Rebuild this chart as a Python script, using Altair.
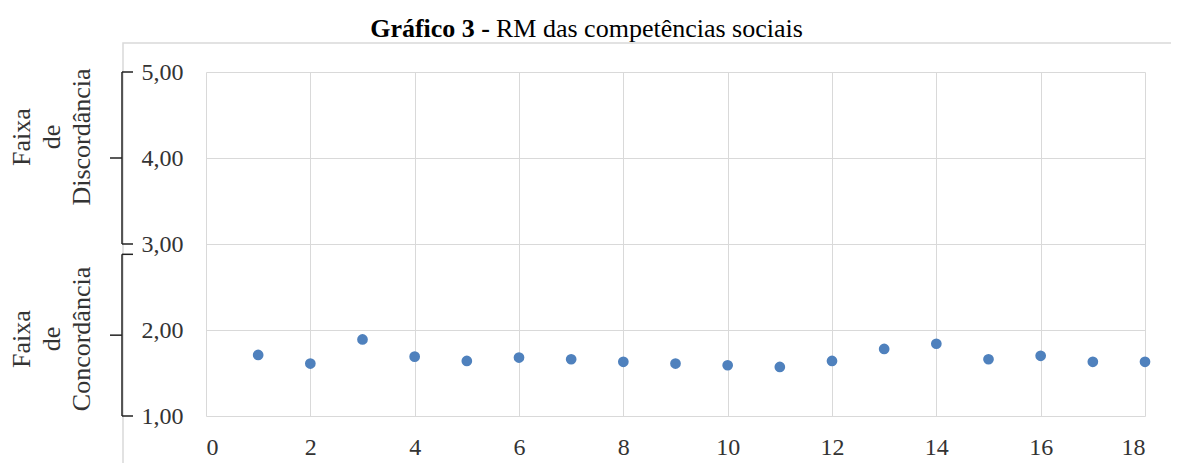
import altair as alt
import pandas as pd

# --- data ---
items = list(range(1, 19))
rm_values = [1.71, 1.61, 1.89, 1.69, 1.64, 1.68, 1.66, 1.63, 1.61,
             1.59, 1.57, 1.64, 1.78, 1.84, 1.66, 1.70, 1.63, 1.63]
x_ticks = [0, 2, 4, 6, 8, 10, 12, 14, 16, 18]
y_ticks = [1, 2, 3, 4, 5]

band_names = ["Faixa\nde\nDiscordância", "Faixa\nde\nConcordância"]
band_hi = [5.0, 2.88]
band_lo = [3.0, 1.0]

title_bold = "Gráfico 3 -"
title_rest = "RM das competências sociais"

FONT = "Liberation Serif"
TXT = "#333333"
GRID = "#d9d9d9"

W, H = 939, 344

df = pd.DataFrame({"item": items, "rm": rm_values})
bands = pd.DataFrame({"name": band_names, "hi": band_hi, "lo": band_lo})

yscale = alt.Scale(domain=[1, 5], nice=False, zero=False)
xscale = alt.Scale(domain=[0, 18], nice=False, zero=False)

points = alt.Chart(df).mark_circle(size=115, color="#4f81bd", opacity=1).encode(
    x=alt.X("item:Q", scale=xscale,
            axis=alt.Axis(values=x_ticks, title=None, grid=True, gridColor=GRID,
                          domain=False, ticks=False, tickSize=0,
                          labelFont=FONT, labelFontSize=24, labelColor=TXT,
                          labelPadding=19)),
    y=alt.Y("rm:Q", scale=yscale,
            axis=alt.Axis(values=y_ticks, title=None, grid=True, gridColor=GRID,
                          domain=False, ticks=False, tickSize=0,
                          labelExpr="replace(format(datum.value, '.2f'), '.', ',')",
                          labelFont=FONT, labelFontSize=24, labelColor=TXT,
                          labelPadding=23)),
)

# outer light frame
frame = alt.Chart(pd.DataFrame({"k": [0]})).mark_rect(
    fill=None, stroke=GRID, strokeWidth=1.5
).encode(x=alt.value(-83), x2=alt.value(972), y=alt.value(-29), y2=alt.value(420))

# braces
base_b = alt.Chart(bands).transform_calculate(mid="(datum.hi + datum.lo) / 2")
brace_v = base_b.mark_rule(color="#222222", strokeWidth=1.5).encode(
    x=alt.value(-84), y=alt.Y("hi:Q", scale=yscale), y2="lo:Q")
brace_top = base_b.mark_rule(color="#222222", strokeWidth=1.5).encode(
    x=alt.value(-84), x2=alt.value(-73), y=alt.Y("hi:Q", scale=yscale))
brace_bot = base_b.mark_rule(color="#222222", strokeWidth=1.5).encode(
    x=alt.value(-84), x2=alt.value(-73), y=alt.Y("lo:Q", scale=yscale))
brace_mid = base_b.mark_rule(color="#222222", strokeWidth=1.5).encode(
    x=alt.value(-96), x2=alt.value(-84), y=alt.Y("mid:Q", scale=yscale))

lab1 = alt.Chart(bands.iloc[[0]]).mark_text(
    angle=270, align="center", baseline="middle", lineBreak="\n",
    font=FONT, fontSize=26, lineHeight=30, color=TXT
).encode(text="name:N", x=alt.value(-184), y=alt.value(65))
lab2 = alt.Chart(bands.iloc[[1]]).mark_text(
    angle=270, align="center", baseline="middle", lineBreak="\n",
    font=FONT, fontSize=26, lineHeight=30, color=TXT
).encode(text="name:N", x=alt.value(-184), y=alt.value(267))

t1 = alt.Chart(pd.DataFrame({"t": [title_bold]})).mark_text(
    align="right", baseline="alphabetic", font=FONT, fontSize=26,
    fontWeight="bold", color="#000000"
).encode(text="t:N", x=alt.value(284), y=alt.value(-35))
t2 = alt.Chart(pd.DataFrame({"t": [title_rest]})).mark_text(
    align="left", baseline="alphabetic", font=FONT, fontSize=26,
    color="#000000"
).encode(text="t:N", x=alt.value(290), y=alt.value(-35))

chart = alt.layer(
    frame, points, brace_v, brace_top, brace_bot, brace_mid, lab1, lab2, t1, t2
).properties(
    width=W, height=H,
    autosize=alt.AutoSizeParams(type="none"),
    padding={"left": 198, "top": 64, "right": 26, "bottom": 47},
    background="white",
).configure_view(stroke=None)

chart.save("out.html", embed_options={"renderer": "svg", "actions": False})
